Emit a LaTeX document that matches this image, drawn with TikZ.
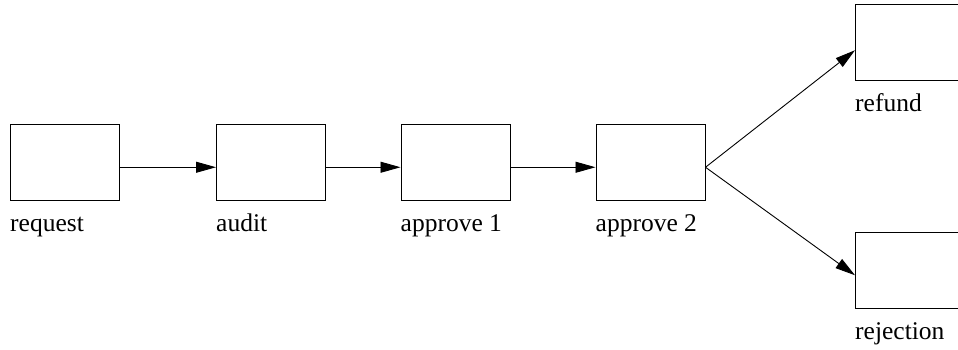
\documentclass[tikz,border=0pt]{standalone}
\usepackage{fontspec}
\setmainfont{Liberation Serif}
\usetikzlibrary{arrows.meta}
\begin{document}
\begin{tikzpicture}[x=1pt,y=-1pt,
  box/.style={draw,line width=1pt,minimum width=109pt,minimum height=75.5pt,inner sep=0pt,anchor=north west},
  lbl/.style={anchor=base west,inner sep=0pt,font=\fontsize{25.5}{30}\selectfont},
  conn/.style={line width=0.9pt,-{Triangle[length=20pt,width=11pt]}}]
\useasboundingbox (0,0) rectangle (958,350);
\clip (0,0) rectangle (958,350);
\node[box] (request) at (10,124) {};
\node[box] (audit) at (216,124) {};
\node[box] (approveA) at (400.5,124) {};
\node[box] (approveB) at (595.5,124) {};
\node[box] (refund) at (855,4.5) {};
\node[box] (rejection) at (855,232) {};
\node[lbl] (lrequest) at (10,231.5) {request};
\node[lbl] (laudit) at (216,231.5) {audit};
\node[lbl] (lapproveA) at (400.5,231.5) {approve 1};
\node[lbl] (lapproveB) at (595.5,231.5) {approve 2};
\node[lbl] (lrefund) at (855,111.5) {refund};
\node[lbl] (lrejection) at (855,339) {rejection};
\coordinate (outrequest) at ([yshift=-5pt]request.east);
\coordinate (inaudit) at ([yshift=-5pt]audit.west);
\coordinate (outaudit) at ([yshift=-5pt]audit.east);
\coordinate (inapproveA) at ([yshift=-5pt]approveA.west);
\coordinate (outapproveA) at ([yshift=-5pt]approveA.east);
\coordinate (inapproveB) at ([yshift=-5pt]approveB.west);
\coordinate (outapproveB) at ([yshift=-5pt]approveB.east);
\coordinate (inrefund) at ([yshift=-7.5pt]refund.west);
\coordinate (inrejection) at ([yshift=-5pt]rejection.west);
\draw[conn] (outrequest) -- (inaudit);
\draw[conn] (outaudit) -- (inapproveA);
\draw[conn] (outapproveA) -- (inapproveB);
\draw[conn] (outapproveB) -- (inrefund);
\draw[conn] (outapproveB) -- (inrejection);
\end{tikzpicture}
\end{document}
